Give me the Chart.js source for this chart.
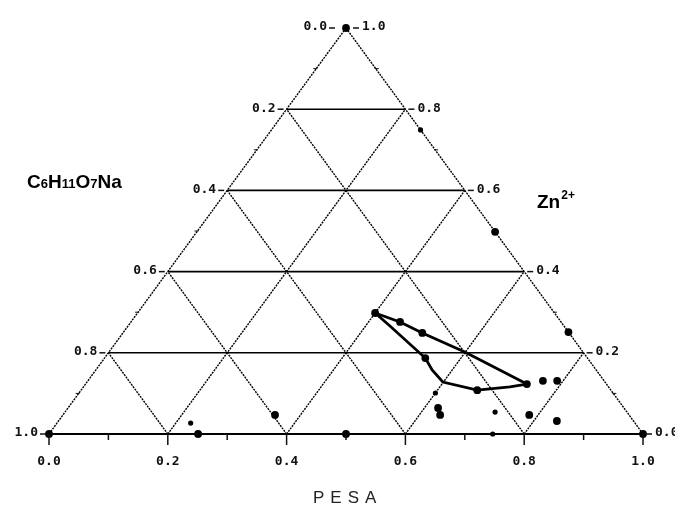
<!DOCTYPE html>
<html>
<head>
<meta charset="utf-8">
<script src="https://cdn.jsdelivr.net/npm/chart.js@4.4.0/dist/chart.umd.min.js"></script>
<style>
  html, body { margin: 0; padding: 0; background: #fff; }
  #wrap { width: 675px; height: 511px; }
</style>
</head>
<body>
<div id="wrap"><canvas id="grafico-ternario" width="675" height="511"></canvas></div>
<script>
// Marcas de los ejes (fracciones)
const ticksPesa = [0, 0.2, 0.4, 0.6, 0.8, 1.0];
const ticksMenores = [0.1, 0.3, 0.5, 0.7, 0.9];
const nivelesGrilla = [0.2, 0.4, 0.6, 0.8];

// Curva superior (fracción PESA, fracción Zn2+)
const superiorPesa = [0.400, 0.453, 0.504, 0.599, 0.743];
const superiorZn   = [0.298, 0.276, 0.249, 0.202, 0.123];

// Curva inferior
const inferiorPesa = [0.400, 0.441, 0.540, 0.566, 0.599, 0.667, 0.718, 0.743];
const inferiorZn   = [0.298, 0.266, 0.187, 0.158, 0.128, 0.108, 0.116, 0.123];

// Puntos experimentales (grandes)
const puntosPesa = [0, 1, 0, 0.400, 0.453, 0.504, 0.540, 0.667, 0.743, 0.766, 0.790,
                    0.623, 0.635, 0.785, 0.839, 0.251, 0.357, 0.5, 0.749, 0.502];
const puntosZn   = [0, 0, 1, 0.298, 0.276, 0.249, 0.187, 0.108, 0.123, 0.131, 0.131,
                    0.064, 0.047, 0.047, 0.032, 0, 0.047, 0, 0.251, 0.498];

// Puntos pequeños
const chicosPesa = [0.600, 0.724, 0.747, 0.225, 0.251];
const chicosZn   = [0.101, 0.054, 0, 0.027, 0.749];

// (PESA, Zn) -> coordenadas del plano
function aPlano(pesa, zn) {
  return { x: pesa + zn / 2, y: zn };
}
function serie(pesas, zns) {
  return pesas.map((p, i) => aPlano(p, zns[i]));
}

// Líneas de la grilla
const horizontales = nivelesGrilla.map(v => [aPlano(0, v), aPlano(1 - v, v)]);
const diagonalesPesa = nivelesGrilla.map(v => [aPlano(v, 0), aPlano(v, 1 - v)]);
const diagonalesNa = nivelesGrilla.map(v => [aPlano(1 - v, 0), aPlano(0, 1 - v)]);

const datasets = [];

function linea(data, opciones) {
  datasets.push(Object.assign({
    data: data,
    showLine: true,
    pointRadius: 0,
    borderColor: '#000',
    borderWidth: 1,
    fill: false,
    clip: false,
    order: 5
  }, opciones));
}

const punteada = { borderDash: [2, 1], borderColor: '#000', borderWidth: 1.4 };

// Bordes del triángulo
linea([aPlano(0, 0), aPlano(0, 1)], punteada);
linea([aPlano(1, 0), aPlano(0, 1)], punteada);
linea([aPlano(0, 0), aPlano(1, 0)], { borderWidth: 2 });

horizontales.forEach(l => linea(l, { borderWidth: 1.6 }));
diagonalesPesa.forEach(l => linea(l, punteada));
diagonalesNa.forEach(l => linea(l, punteada));

// Curvas
linea(serie(superiorPesa, superiorZn), { borderWidth: 2.8, order: 2 });
linea(serie(inferiorPesa, inferiorZn), { borderWidth: 2.8, order: 2 });

// Puntos
datasets.push({
  data: serie(puntosPesa, puntosZn),
  pointRadius: 3.9,
  pointBackgroundColor: '#000',
  pointBorderWidth: 0,
  showLine: false,
  clip: false,
  order: 1
});
datasets.push({
  data: serie(chicosPesa, chicosZn),
  pointRadius: 2.6,
  pointBackgroundColor: '#000',
  pointBorderWidth: 0,
  showLine: false,
  clip: false,
  order: 1
});

// Textos: etiquetas de ejes y nombres de componentes
const textosTernario = {
  id: 'textosTernario',
  afterDraw(chart) {
    const ctx = chart.ctx;
    const sx = chart.scales.x, sy = chart.scales.y;
    const px = p => sx.getPixelForValue(p.x);
    const py = p => sy.getPixelForValue(p.y);
    ctx.save();
    ctx.fillStyle = '#111';
    ctx.strokeStyle = '#111';
    ctx.lineWidth = 1.5;
    ctx.font = 'bold 13px "DejaVu Sans Mono"';
    ctx.textBaseline = 'middle';

    const base = sy.getPixelForValue(0);

    // Eje inferior (PESA)
    ctx.textAlign = 'center';
    ticksPesa.forEach(t => {
      const x = sx.getPixelForValue(t);
      ctx.beginPath(); ctx.moveTo(x, base); ctx.lineTo(x, base + 11); ctx.stroke();
      ctx.fillText(t.toFixed(1), x, base + 28);
    });
    ticksMenores.forEach(t => {
      const x = sx.getPixelForValue(t);
      ctx.beginPath(); ctx.moveTo(x, base); ctx.lineTo(x, base + 6); ctx.stroke();
    });

    // Lado izquierdo (C6H11O7Na) y derecho (Zn2+)
    ticksPesa.forEach(v => {
      const izq = aPlano(0, v);
      const der = aPlano(1 - v, v);
      const xi = px(izq), yi = py(izq);
      const xd = px(der), yd = py(der);
      const dx = v === 1 ? 8 : 0;
      ctx.beginPath(); ctx.moveTo(xi - 3 - dx, yi); ctx.lineTo(xi - 9 - dx, yi); ctx.stroke();
      ctx.textAlign = 'right';
      ctx.fillText((1 - v).toFixed(1), xi - 11 - dx, yi - 1);
      ctx.beginPath(); ctx.moveTo(xd + 3 + dx / 2, yd); ctx.lineTo(xd + 9 + dx / 2, yd); ctx.stroke();
      ctx.textAlign = 'left';
      ctx.fillText(v.toFixed(1), xd + 12 + dx / 2, yd - 1);
    });
    ctx.lineWidth = 1;
    ticksMenores.forEach(v => {
      const izq = aPlano(0, v), der = aPlano(1 - v, v);
      ctx.beginPath(); ctx.moveTo(px(izq) - 3, py(izq)); ctx.lineTo(px(izq) + 1, py(izq)); ctx.stroke();
      ctx.beginPath(); ctx.moveTo(px(der) - 1, py(der)); ctx.lineTo(px(der) + 3, py(der)); ctx.stroke();
    });

    // Nombres
    ctx.textBaseline = 'alphabetic';
    ctx.textAlign = 'left';
    ctx.fillStyle = '#000';
    let x = 27;
    const partes = [['C', 0], ['6', 1], ['H', 0], ['11', 1], ['O', 0], ['7', 1], ['Na', 0]];
    partes.forEach(([t, sub]) => {
      ctx.font = sub ? 'bold 13px "Liberation Sans Narrow", "Liberation Sans"'
                     : 'bold 19px "Liberation Sans Narrow", "Liberation Sans"';
      ctx.fillText(t, x, 188);
      x += ctx.measureText(t).width;
    });

    ctx.font = 'bold 19px "Liberation Sans Narrow", "Liberation Sans"';
    ctx.fillText('Zn', 537, 208);
    const wZn = ctx.measureText('Zn').width;
    ctx.font = 'bold 12px "Liberation Sans Narrow", "Liberation Sans"';
    ctx.fillText('2+', 537 + wZn + 1, 199);

    // Título del eje inferior
    ctx.font = '17px "Liberation Sans"';
    ctx.fillStyle = '#222';
    const letras = 'PESA'.split('');
    let xl = 313;
    letras.forEach(l => {
      ctx.fillText(l, xl, 503);
      xl += ctx.measureText(l).width + 6;
    });
    ctx.restore();
  }
};

new Chart(document.getElementById('grafico-ternario'), {
  type: 'scatter',
  data: { datasets: datasets },
  options: {
    responsive: false,
    animation: false,
    layout: { padding: { left: 49, right: 32, top: 28, bottom: 77 } },
    scales: {
      x: { type: 'linear', min: 0, max: 1, display: false },
      y: { type: 'linear', min: 0, max: 1, display: false }
    },
    plugins: {
      legend: { display: false },
      tooltip: { enabled: false }
    }
  },
  plugins: [textosTernario]
});
</script>
</body>
</html>
